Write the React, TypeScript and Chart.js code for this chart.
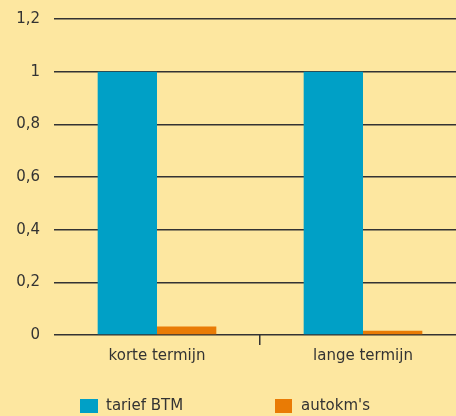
import React, { useEffect, useRef } from "react";
import { Chart, registerables } from "chart.js";

Chart.register(...registerables);

const categories = ["korte termijn", "lange termijn"];
const tariefBTM = [1, 1];
const autokms = [0.032, 0.016];
const seriesNames = ["tarief BTM", "autokm's"];
const yTicks = [0, 0.2, 0.4, 0.6, 0.8, 1, 1.2];

const BG = "#FDE7A0";
const BLUE = "#00A0C6";
const ORANGE = "#E97B05";
const INK = "#333333";
const FONT = "'DejaVu Sans', sans-serif";

export default function App() {
  const ref = useRef<HTMLCanvasElement | null>(null);
  useEffect(() => {
    document.body.style.margin = "0";
    const c = new Chart(ref.current!, {
      type: "bar",
      data: {
        labels: categories,
        datasets: [
          { label: seriesNames[0], data: tariefBTM, backgroundColor: BLUE, barPercentage: 1, categoryPercentage: 0.576 },
          { label: seriesNames[1], data: autokms, backgroundColor: ORANGE, barPercentage: 1, categoryPercentage: 0.576 },
        ],
      },
      options: {
        animation: false,
        responsive: false,
        layout: { padding: { top: 19, right: 0, left: 0, bottom: 0 } },
        plugins: { legend: { display: false }, tooltip: { enabled: false } },
        scales: {
          x: {
            afterFit: (s: any) => { s.height = 81; s.paddingLeft = 0; s.paddingRight = 0; },
            border: { display: false },
            grid: {
              offset: true,
              drawOnChartArea: false,
              drawTicks: true,
              tickLength: 10,
              lineWidth: 1.5,
              color: (ctx: any) => (ctx.index === 1 ? INK : "rgba(0,0,0,0)"),
            },
            ticks: { color: INK, font: { family: FONT, size: 15 }, padding: 2 },
          },
          y: {
            min: 0,
            max: 1.2,
            afterFit: (s: any) => { s.width = 54; s.paddingTop = 0; s.paddingBottom = 0; },
            afterBuildTicks: (s: any) => { s.ticks = yTicks.map((v) => ({ value: v })); },
            border: { display: false },
            grid: { color: INK, lineWidth: 1.5, drawTicks: false },
            ticks: {
              color: INK,
              padding: 14,
              font: { family: FONT, size: 15, lineHeight: 1 },
              callback: (v: any) => String(Math.round(Number(v) * 10) / 10).replace(".", ","),
            },
          },
        },
      },
    });
    return () => c.destroy();
  }, []);

  const legendText: React.CSSProperties = {
    position: "absolute",
    top: 396,
    fontFamily: FONT,
    fontSize: 15,
    color: INK,
    lineHeight: "18px",
  };
  return (
    <div style={{ position: "relative", width: 456, height: 416, background: BG, overflow: "hidden" }}>
      <canvas ref={ref} width={466} height={416} style={{ display: "block" }} />
      <div style={{ position: "absolute", left: 80, top: 399, width: 18, height: 14, background: BLUE }} />
      <span style={{ ...legendText, left: 106 }}>{seriesNames[0]}</span>
      <div style={{ position: "absolute", left: 275, top: 399, width: 17, height: 14, background: ORANGE }} />
      <span style={{ ...legendText, left: 301 }}>{seriesNames[1]}</span>
    </div>
  );
}
